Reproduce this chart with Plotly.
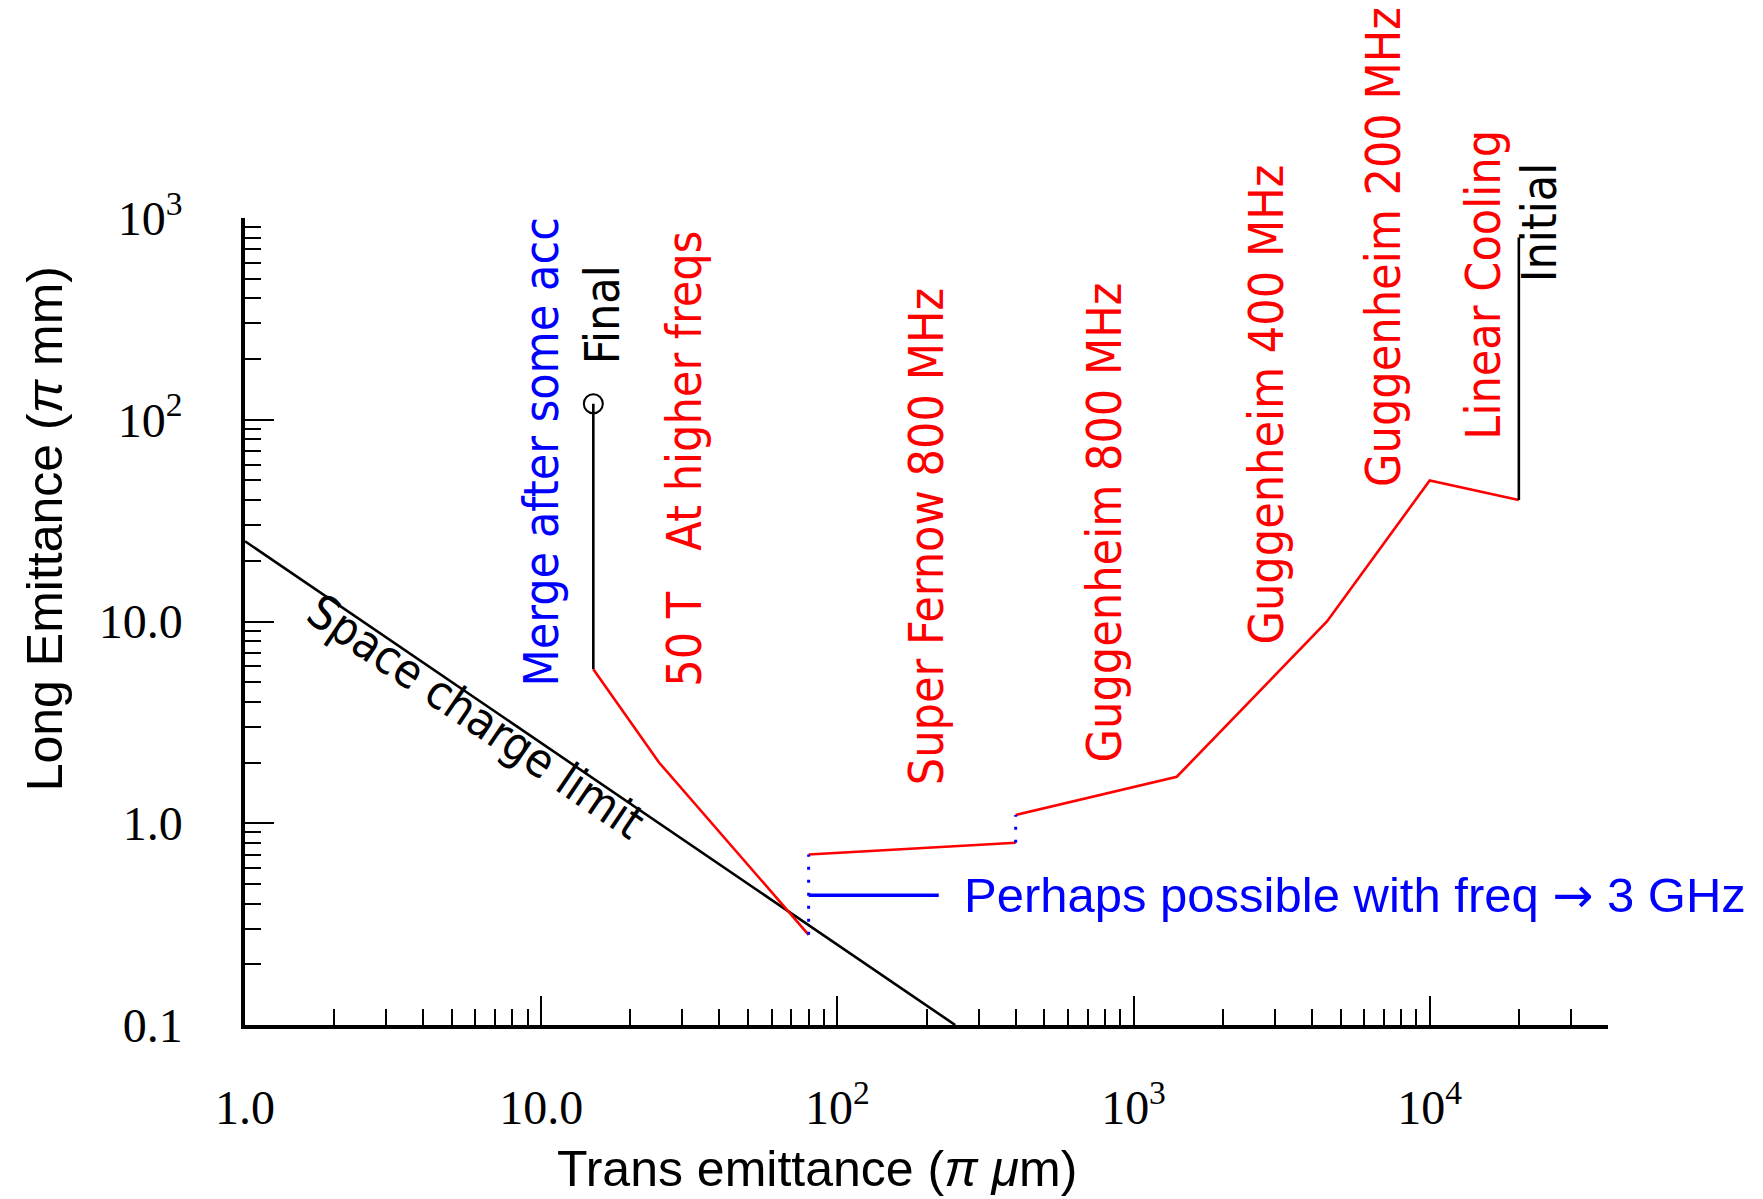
import numpy as np
import plotly.graph_objects as go

# ---- data -------------------------------------------------------------
# Space-charge limit: long emittance falls as 25 / trans emittance
sc_x = [1.0, 250.0]
sc_y = [25.0, 0.1]

# Final emittance: marker and drop to the end of the cooling path
final_x = [15.0, 15.0]
final_y = [120.0, 5.8]

# Cooling path (red), in three pieces joined by merge steps
path_a_x = [15.0, 25.0, 80.0]
path_a_y = [5.8, 2.0, 0.28]
path_b_x = [80.0, 400.0]
path_b_y = [0.7, 0.8]
path_c_x = [400.0, 1400.0, 4500.0, 10000.0, 20000.0]
path_c_y = [1.1, 1.7, 10.0, 50.0, 40.0]

# Merge steps (blue dotted)
merge1_x = [80.0, 80.0]
merge1_y = [0.28, 0.7]
merge2_x = [400.0, 400.0]
merge2_y = [0.8, 1.1]

# Option reached with higher frequency (blue solid)
ghz_x = [80.0, 220.0]
ghz_y = [0.44, 0.44]

# Initial emittance
init_x = [20000.0, 20000.0]
init_y = [40.0, 800.0]

# Axis ticks
x_major = [1, 10, 100, 1000, 10000]
x_major_text = ["1.0", "10.0", "10<sup>2</sup>", "10<sup>3</sup>", "10<sup>4</sup>"]
y_major = [0.1, 1, 10, 100, 1000]
y_major_text = ["0.1", "1.0", "10.0", "10<sup>2</sup>", "10<sup>3</sup>"]

X_MAX = 4e4

# Stage labels: text, colour, anchor (log10 x, log10 y) at the start of the text
NB = "\u00a0"
stage_labels = [
    ("Merge after some acc", "#0000ff", 1.000, 0.666),
    ("Final", "#000000", 1.206, 2.263),
    ("50 T" + NB * 3 + "At higher freqs", "#ff0000", 1.482, 0.666),
    ("Super Fernow 800 MHz", "#ff0000", 2.302, 0.180),
    ("Guggenheim 800 MHz", "#ff0000", 2.900, 0.291),
    ("Guggenheim 400 MHz", "#ff0000", 3.448, 0.877),
    ("Guggenheim 200 MHz", "#ff0000", 3.843, 1.658),
    ("Linear Cooling", "#ff0000", 4.181, 1.893),
    ("Initial", "#000000", 4.370, 2.670),
]

LABEL_FONT = "DejaVu Sans Condensed, DejaVu Sans, sans-serif"
TITLE_FONT = "Liberation Sans, Arial, sans-serif"
TICK_FONT = "Liberation Serif, Times New Roman, serif"

RED = "#ff0000"
BLUE = "#0000ff"
BLACK = "#000000"

fig = go.Figure()


def add_line(x, y, color, width, dash="solid"):
    fig.add_trace(go.Scatter(x=x, y=y, mode="lines",
                             line=dict(color=color, width=width, dash=dash),
                             hoverinfo="skip", showlegend=False))


add_line(sc_x, sc_y, BLACK, 2.6)
add_line(final_x, final_y, BLACK, 2.6)
add_line(path_a_x, path_a_y, RED, 2.6)
add_line(path_b_x, path_b_y, RED, 2.6)
add_line(path_c_x, path_c_y, RED, 2.6)
add_line(merge1_x, merge1_y, BLUE, 3, dash="3px,10px")
add_line(merge2_x, merge2_y, BLUE, 3, dash="3px,10px")
add_line(ghz_x, ghz_y, BLUE, 3.5)
add_line(init_x, init_y, BLACK, 2.6)

# open circle at the final emittance
fig.add_trace(go.Scatter(x=[final_x[0]], y=[final_y[0]], mode="markers",
                         marker=dict(symbol="circle-open", size=19, color=BLACK,
                                     line=dict(width=2, color=BLACK)),
                         hoverinfo="skip", showlegend=False))

annotations = []
for text, color, lx, ly in stage_labels:
    annotations.append(dict(
        x=lx, y=ly, xref="x", yref="y", text=text, showarrow=False,
        textangle=-90, xanchor="center", yanchor="bottom",
        font=dict(family=LABEL_FONT, size=48, color=color)))

annotations.append(dict(
    x=0.781, y=0.529, xref="x", yref="y", text="Space charge limit",
    showarrow=False, textangle=34.2, xanchor="center", yanchor="middle",
    font=dict(family=LABEL_FONT, size=47, color=BLACK)))

annotations.append(dict(
    x=2.42, y=np.log10(ghz_y[0]), xref="x", yref="y",
    text="Perhaps possible with freq "
         "<span style=\"font-family:DejaVu Sans\">\u2192</span> 3 GHz",
    showarrow=False, xanchor="left", yanchor="middle",
    font=dict(family=TITLE_FONT, size=49, color=BLUE)))

# axis titles
annotations.append(dict(
    x=-0.147, y=0.615, xref="paper", yref="paper",
    text="Long Emittance (<i>\u03c0</i> mm)", showarrow=False, textangle=-90,
    xanchor="center", yanchor="middle",
    font=dict(family=TITLE_FONT, size=50, color=BLACK)))
annotations.append(dict(
    x=0.42, y=-0.178, xref="paper", yref="paper",
    text="Trans emittance (<i>\u03c0</i> <i>\u03bc</i>m)", showarrow=False,
    xanchor="center", yanchor="middle",
    font=dict(family=TITLE_FONT, size=50, color=BLACK)))


def minor_vals(lo_exp, hi_exp, vmax):
    vals = []
    for d in range(lo_exp, hi_exp + 1):
        for m in range(2, 10):
            v = m * 10.0 ** d
            if v <= vmax * 1.0001:
                vals.append(v)
    return vals


axis_common = dict(
    showline=True, linecolor=BLACK, linewidth=3.5, mirror=False,
    showgrid=False, zeroline=False,
    ticks="inside", ticklen=29, tickwidth=2, tickcolor=BLACK,
    tickmode="array",
    tickfont=dict(family=TICK_FONT, size=48, color=BLACK),
)

fig.update_xaxes(
    type="log", range=[0, np.log10(X_MAX)],
    tickvals=x_major, ticktext=x_major_text, ticklabelstandoff=38,
    minor=dict(tickmode="array", tickvals=minor_vals(0, 4, X_MAX),
               ticks="inside", ticklen=16, tickwidth=2, tickcolor=BLACK,
               showgrid=False),
    **axis_common)
fig.update_yaxes(
    type="log", range=[-1, 3],
    tickvals=y_major, ticktext=y_major_text, ticklabelstandoff=49,
    minor=dict(tickmode="array", tickvals=minor_vals(-1, 2, 1000),
               ticks="inside", ticklen=16, tickwidth=2, tickcolor=BLACK,
               showgrid=False),
    **axis_common)

fig.update_layout(
    width=1763, height=1199,
    margin=dict(l=245, r=155, t=218, b=174),
    paper_bgcolor="white", plot_bgcolor="white",
    showlegend=False,
    annotations=annotations,
)

fig.write_html("out.html", config={"displayModeBar": False})
